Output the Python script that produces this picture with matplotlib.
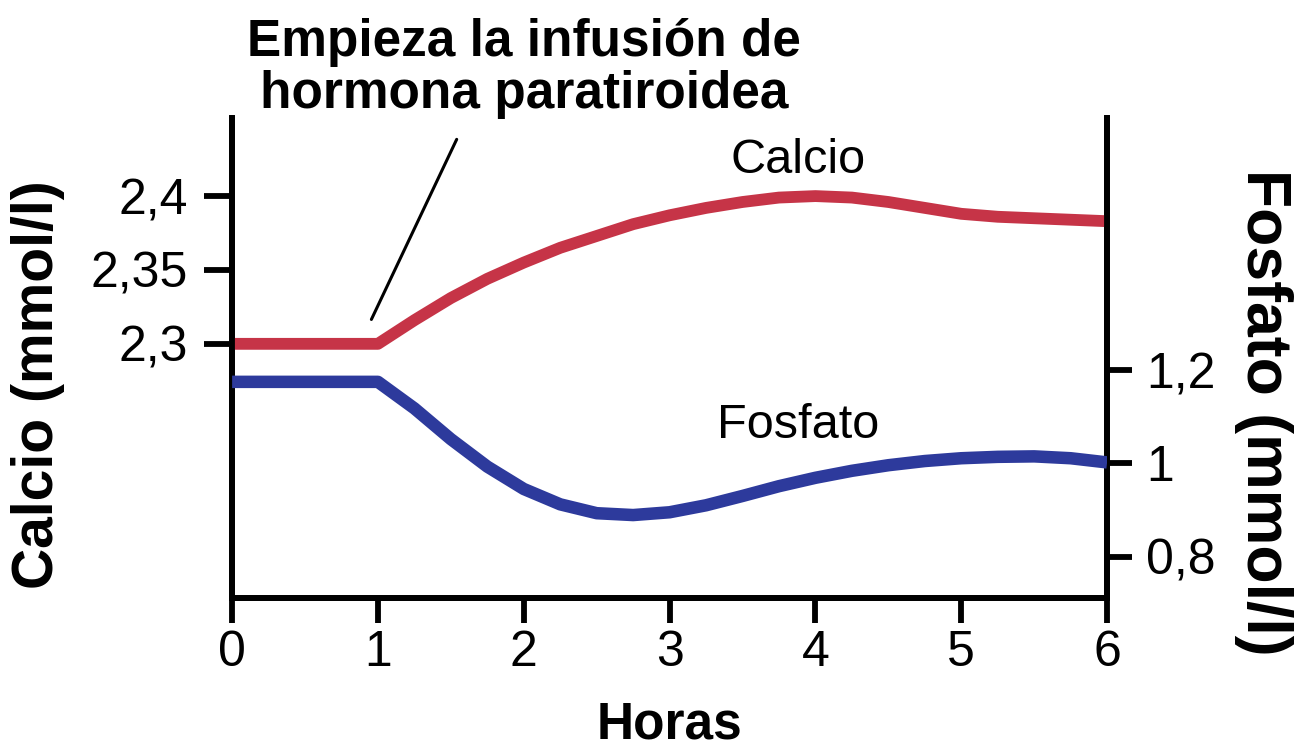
import matplotlib
matplotlib.use("Agg")
import matplotlib.pyplot as plt
from matplotlib.ticker import FixedLocator, FixedFormatter

plt.rcParams["font.family"] = ["Liberation Sans", "DejaVu Sans"]

# hours after start
horas = [0, 1.0, 1.25, 1.5, 1.75, 2.0, 2.25, 2.5, 2.75, 3.0, 3.25, 3.5,
         3.75, 4.0, 4.25, 4.5, 4.75, 5.0, 5.25, 5.5, 5.75, 6.0]
calcio = [2.300, 2.300, 2.316, 2.331, 2.344, 2.355, 2.365, 2.373, 2.381,
          2.387, 2.392, 2.396, 2.399, 2.400, 2.399, 2.396, 2.392, 2.388,
          2.386, 2.385, 2.384, 2.383]
fosfato = [1.175, 1.175, 1.118, 1.052, 0.993, 0.945, 0.912, 0.893, 0.889,
           0.895, 0.910, 0.930, 0.951, 0.969, 0.984, 0.996, 1.005, 1.011,
           1.014, 1.015, 1.011, 1.002]

x_ticks = [0, 1, 2, 3, 4, 5, 6]
ca_ticks = [2.3, 2.35, 2.4]
ca_labels = ["2,3", "2,35", "2,4"]
p_ticks = [0.8, 1.0, 1.2]
p_labels = ["0,8", "1", "1,2"]

RED = "#c63447"
BLUE = "#2d3a9c"
LW_AX = 4.2

fig = plt.figure(figsize=(13.04, 7.55), dpi=100)
ax = fig.add_axes([0.178, 0.208, 0.671, 0.636])
ax2 = ax.twinx()

ax.plot(horas, calcio, color=RED, lw=8.5, solid_capstyle="butt",
        solid_joinstyle="round", zorder=3)
ax2.plot(horas, fosfato, color=BLUE, lw=9, solid_capstyle="butt",
         solid_joinstyle="round", zorder=3)

ax.set_xlim(0, 6)
ax.set_ylim(2.128, 2.453)
ax2.set_ylim(0.711, 1.742)

for a in (ax, ax2):
    a.spines["top"].set_visible(False)
    for s in ("left", "right", "bottom"):
        a.spines[s].set_linewidth(LW_AX)
    a.tick_params(width=LW_AX, labelsize=36, direction="out")

ax.xaxis.set_major_locator(FixedLocator(x_ticks))
ax.set_xticklabels([str(t) for t in x_ticks])
ax.tick_params(axis="x", length=18, pad=5)
ax.yaxis.set_major_locator(FixedLocator(ca_ticks))
ax.yaxis.set_major_formatter(FixedFormatter(ca_labels))
ax.tick_params(axis="y", length=20, pad=12)

ax2.yaxis.set_major_locator(FixedLocator(p_ticks))
ax2.yaxis.set_major_formatter(FixedFormatter(p_labels))
ax2.tick_params(axis="y", length=18, pad=10)

ax.set_xlabel("Horas", fontsize=37, fontweight="bold", labelpad=18)
ax.set_ylabel("Calcio (mmol/l)", fontsize=41, fontweight="bold")
ax.yaxis.set_label_coords(-0.191, 0.444)
ax2.set_ylabel("Fosfato (mmol/l)", fontsize=45, fontweight="bold",
               rotation=270)
ax2.yaxis.set_label_coords(1.212, 0.3875)

ax.text(3.88, 2.424, "Calcio", fontsize=35, ha="center", va="center")
ax2.text(3.88, 1.082, "Fosfato", fontsize=35, ha="center", va="center")

ax.annotate("", xy=(0.955, 2.3165), xytext=(1.54, 2.4384),
            arrowprops=dict(arrowstyle="-", lw=2.2, color="black",
                            shrinkA=0, shrinkB=0),
            annotation_clip=False)
fig.text(0.402, 0.976, "Empieza la infusión de\nhormona paratiroidea",
         fontsize=37, fontweight="bold", ha="center", va="top",
         linespacing=1.08)

fig.savefig("out.png", dpi=100)
